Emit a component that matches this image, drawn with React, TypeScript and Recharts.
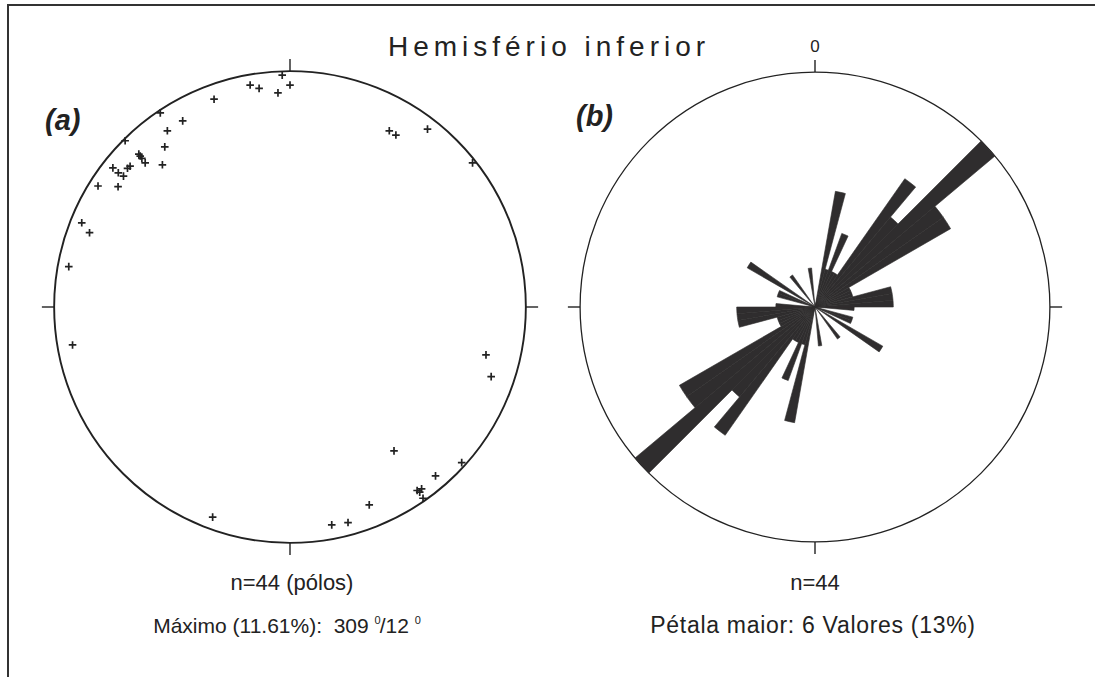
import React from 'react';
import {
  ScatterChart,
  Scatter,
  XAxis,
  YAxis,
  ReferenceLine,
  ReferenceDot,
  PieChart,
  Pie,
  Cell,
} from 'recharts';

// ---- Panel (a): poles, projected unit-circle coordinates (lower hemisphere) ----
const poleX = [
  -0.033, -0.169, -0.131, 0.0, -0.051, -0.322, -0.55, -0.455, -0.52, -0.699,
  -0.531, -0.641, -0.628, -0.614, -0.541, -0.751, -0.728, -0.706, -0.689, -0.678,
  -0.814, -0.729, -0.883, -0.85, -0.938, 0.421, 0.449, 0.583, 0.774, -0.922,
  -0.328, 0.831, 0.853, 0.441, 0.728, 0.617, 0.539, 0.558, 0.564, 0.336,
  0.246, 0.177, -0.635, 0.55,
];
const poleY = [
  0.983, 0.941, 0.927, 0.941, 0.908, 0.881, 0.823, 0.789, 0.747, 0.705,
  0.679, 0.648, 0.63, 0.611, 0.603, 0.59, 0.569, 0.555, 0.588, 0.597,
  0.513, 0.51, 0.357, 0.315, 0.171, 0.747, 0.729, 0.754, 0.611, -0.161,
  -0.891, -0.203, -0.295, -0.61, -0.66, -0.716, -0.778, -0.771, -0.811, -0.839,
  -0.914, -0.924, 0.64, -0.785,
];

// ---- Panel (b): rose diagram, 5° bins from 0° to 180° (bidirectional) ----
const roseBinDeg = 5;
const roseCounts = [
  0, 0, 3, 1, 2, 1, 1, 4, 3, 6, 4, 4, 1, 1, 1, 2, 2, 2,
  1, 0, 0, 1, 1, 0, 2, 0, 0, 0, 1, 0, 0, 0, 0, 0, 1, 0,
];
const roseMax = 6;
const roseLevels = [1, 2, 3, 4, 5, 6];

// ---- Texts ----
const title = 'Hemisfério inferior';
const northLabel = '0';
const panelLabels = ['(a)', '(b)'];
const leftLine1 = 'n=44 (pólos)';
const rightLine1 = 'n=44';
const rightLine2 = 'Pétala maior: 6 Valores (13%)';

const INK = '#222222';
const PETAL = '#2f2d2e';
const DOMAIN: [number, number] = [-1.06, 1.06];
const TICK = 0.052;
const FONT = '"Liberation Sans", Arial, Helvetica, sans-serif';

const poleData = poleX.map((x, i) => ({ x, y: poleY[i] }));
const roseTable = [...roseCounts, ...roseCounts].map((count, i) => ({
  start: i * roseBinDeg,
  count,
  span: roseBinDeg,
}));

function Cross(props: any) {
  const { cx, cy } = props;
  if (cx == null || cy == null) return null;
  const h = 3.8;
  return (
    <path
      d={`M${cx - h},${cy}H${cx + h}M${cx},${cy - h}V${cy + h}`}
      stroke={INK}
      strokeWidth={1.7}
      fill="none"
    />
  );
}

function frameElements(radiusPx: number, sw: number) {
  return [
    <ReferenceDot
      key="circle"
      x={0}
      y={0}
      r={radiusPx}
      fill="none"
      stroke={INK}
      strokeWidth={sw}
    />,
    <ReferenceLine key="tn" segment={[{ x: 0, y: 1 }, { x: 0, y: 1 + TICK }]} stroke={INK} strokeWidth={1.4} />,
    <ReferenceLine key="ts" segment={[{ x: 0, y: -1 }, { x: 0, y: -1 - TICK }]} stroke={INK} strokeWidth={1.4} />,
    <ReferenceLine key="te" segment={[{ x: 1, y: 0 }, { x: 1 + TICK, y: 0 }]} stroke={INK} strokeWidth={1.4} />,
    <ReferenceLine key="tw" segment={[{ x: -1, y: 0 }, { x: -1 - TICK, y: 0 }]} stroke={INK} strokeWidth={1.4} />,
  ];
}

const M0 = { top: 0, right: 0, bottom: 0, left: 0 };

export default function App() {
  const leftSize = 500;
  const rightSize = 498;
  const leftR = leftSize / 2 / DOMAIN[1];
  const rightR = rightSize / 2 / DOMAIN[1];

  return (
    <div
      style={{
        position: 'absolute',
        left: 0,
        top: 0,
        width: 1095,
        height: 677,
        background: '#fff',
        overflow: 'hidden',
        fontFamily: FONT,
      }}
    >
      <div
        style={{
          position: 'absolute',
          left: 7,
          top: 4,
          width: 1088,
          height: 673,
          borderTop: '2px solid #333',
          borderLeft: '2px solid #333',
          boxSizing: 'border-box',
        }}
      />

      {/* Panel (a) stereonet */}
      <div style={{ position: 'absolute', left: 40, top: 57 }}>
        <ScatterChart width={leftSize} height={leftSize} margin={M0}>
          <XAxis type="number" dataKey="x" domain={DOMAIN} hide allowDataOverflow />
          <YAxis type="number" dataKey="y" domain={DOMAIN} hide allowDataOverflow />
          {frameElements(leftR, 1.9)}
          <Scatter data={poleData} shape={Cross} isAnimationActive={false} />
        </ScatterChart>
      </div>

      {/* Panel (b) frame */}
      <div style={{ position: 'absolute', left: 566, top: 58 }}>
        <ScatterChart width={rightSize} height={rightSize} margin={M0}>
          <XAxis type="number" dataKey="x" domain={DOMAIN} hide allowDataOverflow />
          <YAxis type="number" dataKey="y" domain={DOMAIN} hide allowDataOverflow />
          {frameElements(rightR, 1.3)}
        </ScatterChart>
      </div>

      {/* Panel (b) rose petals */}
      <div style={{ position: 'absolute', left: 566, top: 58 }}>
        <PieChart width={rightSize} height={rightSize} margin={M0}>
          {roseLevels.map((k) => (
            <Pie
              key={k}
              data={roseTable}
              dataKey="span"
              cx="50%"
              cy="50%"
              innerRadius={0}
              outerRadius={(rightR * k) / roseMax}
              startAngle={90}
              endAngle={-270}
              stroke="none"
              isAnimationActive={false}
            >
              {roseTable.map((d, i) => (
                <Cell
                  key={i}
                  fill={d.count === k ? PETAL : 'none'}
                  stroke={d.count === k ? PETAL : 'none'}
                  strokeWidth={0.6}
                />
              ))}
            </Pie>
          ))}
        </PieChart>
      </div>

      {/* Texts */}
      <svg
        width={1095}
        height={677}
        style={{ position: 'absolute', left: 0, top: 0, pointerEvents: 'none' }}
        fontFamily={FONT}
        fill={INK}
      >
        <text x={549} y={56} fontSize={28} letterSpacing={5} textAnchor="middle">{title}</text>
        <text x={815} y={52} fontSize={17} textAnchor="middle">{northLabel}</text>
        <text x={45} y={130} fontSize={29} fontWeight="bold" fontStyle="italic">{panelLabels[0]}</text>
        <text x={576} y={126} fontSize={29} fontWeight="bold" fontStyle="italic">{panelLabels[1]}</text>
        <text x={292} y={590} fontSize={22} textAnchor="middle">{leftLine1}</text>
        <text x={287} y={633} fontSize={21} textAnchor="middle" style={{ whiteSpace: 'pre' }}>
          <tspan>{'Máximo (11.61%):  309 '}</tspan>
          <tspan fontSize={11} dy={-9}>0</tspan>
          <tspan dy={9} dx={-1}>{'/12 '}</tspan>
          <tspan fontSize={11} dy={-9}>0</tspan>
        </text>
        <text x={815} y={590} fontSize={22} textAnchor="middle">{rightLine1}</text>
        <text x={813} y={633} fontSize={23} letterSpacing={0.7} textAnchor="middle">{rightLine2}</text>
      </svg>
    </div>
  );
}
